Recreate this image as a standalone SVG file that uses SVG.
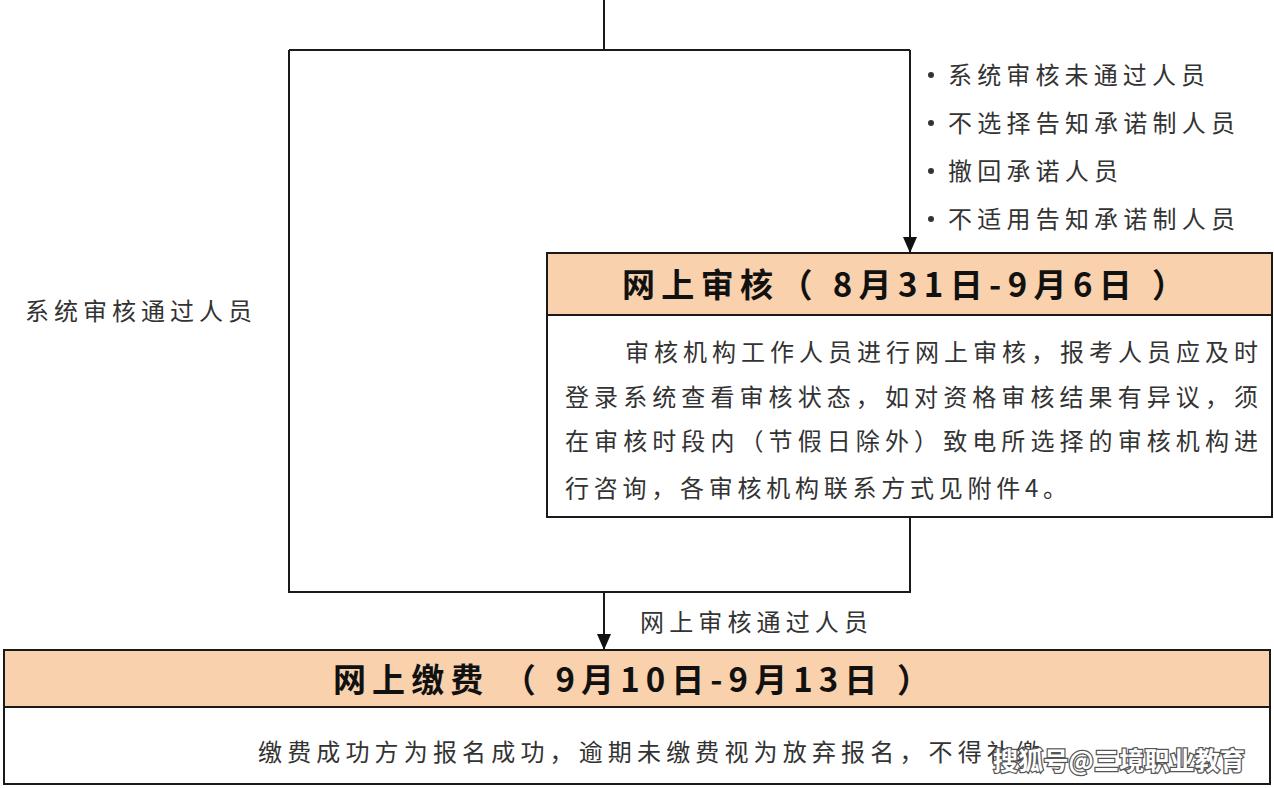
<svg xmlns="http://www.w3.org/2000/svg" width="1274" height="788" viewBox="0 0 1274 788">
<style>
.ln{stroke:#1a1a1a;stroke-width:2;fill:none}
.box{fill:#ffffff;stroke:#1a1a1a;stroke-width:2}
.hdr{fill:#f9d1ad;stroke:#1a1a1a;stroke-width:2}
.t{font-family:"Noto Sans CJK SC","Liberation Sans",sans-serif;fill:#333;font-size:24px}
.ti{font-family:"Noto Sans CJK SC","Liberation Sans",sans-serif;fill:#111;font-size:33px;font-weight:bold}
.wm{font-family:"Noto Sans CJK SC","Liberation Sans",sans-serif;fill:#fff;font-size:25px;font-weight:bold;stroke:#555;stroke-width:2.5;paint-order:stroke}
</style>
<defs>
<marker id="ah" markerWidth="10" markerHeight="10" refX="8" refY="5" orient="auto" markerUnits="userSpaceOnUse" viewBox="0 0 10 10">
<path d="M0,0 L10,5 L0,10 z" fill="#111"/>
</marker>
<marker id="ah2" viewBox="0 0 16 16" refX="16" refY="8" markerWidth="16" markerHeight="16" orient="auto" markerUnits="userSpaceOnUse">
<path d="M0,1 L16,8 L0,15 z" fill="#111"/>
</marker>
</defs>
<rect width="1274" height="788" fill="#fff"/>
<g id="connectors">
<path class="ln" d="M604,0 V50"/>
<path class="ln" d="M289,50 H910"/>
<path class="ln" d="M289,50 V592 H910 V517"/>
<path class="ln" d="M910,50 V253" marker-end="url(#ah2)"/>
<path class="ln" d="M604,592 V650" marker-end="url(#ah2)"/>
</g>
<g id="label-pass-system">
<text class="t" x="25" y="320" textLength="227" lengthAdjust="spacing">系统审核通过人员</text>
</g>
<g id="label-fail-list">
<circle cx="931" cy="75" r="3" fill="#333"/>
<text class="t" x="948" y="84" textLength="257" lengthAdjust="spacing">系统审核未通过人员</text>
<circle cx="931" cy="123" r="3" fill="#333"/>
<text class="t" x="948" y="132" textLength="287" lengthAdjust="spacing">不选择告知承诺制人员</text>
<circle cx="931" cy="171" r="3" fill="#333"/>
<text class="t" x="948" y="180" textLength="170" lengthAdjust="spacing">撤回承诺人员</text>
<circle cx="931" cy="219" r="3" fill="#333"/>
<text class="t" x="948" y="228" textLength="287" lengthAdjust="spacing">不适用告知承诺制人员</text>
</g>
<g id="node-review">
<rect class="box" x="547" y="253" width="725" height="264"/>
<rect class="hdr" x="547" y="253" width="725" height="62"/>
<text class="ti" x="622" y="297" textLength="563" lengthAdjust="spacing">网上审核（ 8月31日-9月6日 ）</text>
<text class="t" x="625" y="361" textLength="633" lengthAdjust="spacing">审核机构工作人员进行网上审核，报考人员应及时</text>
<text class="t" x="565" y="406" textLength="693" lengthAdjust="spacing">登录系统查看审核状态，如对资格审核结果有异议，须</text>
<text class="t" x="565" y="450" textLength="693" lengthAdjust="spacing">在审核时段内（节假日除外）致电所选择的审核机构进</text>
<text class="t" x="565" y="497" textLength="502" lengthAdjust="spacing">行咨询，各审核机构联系方式见附件4。</text>
</g>
<g id="label-pass-review">
<text class="t" x="640" y="631" textLength="228" lengthAdjust="spacing">网上审核通过人员</text>
</g>
<g id="node-payment">
<rect class="box" x="4" y="650" width="1266" height="134"/>
<rect class="hdr" x="4" y="650" width="1266" height="57"/>
<text class="ti" x="333" y="692" textLength="597" lengthAdjust="spacing">网上缴费 （ 9月10日-9月13日 ）</text>
<text class="t" x="258" y="761" textLength="782" lengthAdjust="spacing">缴费成功方为报名成功，逾期未缴费视为放弃报名，不得补缴</text>
<text class="wm" x="993" y="770" textLength="252" lengthAdjust="spacing">搜狐号@三境职业教育</text>
</g>
</svg>
